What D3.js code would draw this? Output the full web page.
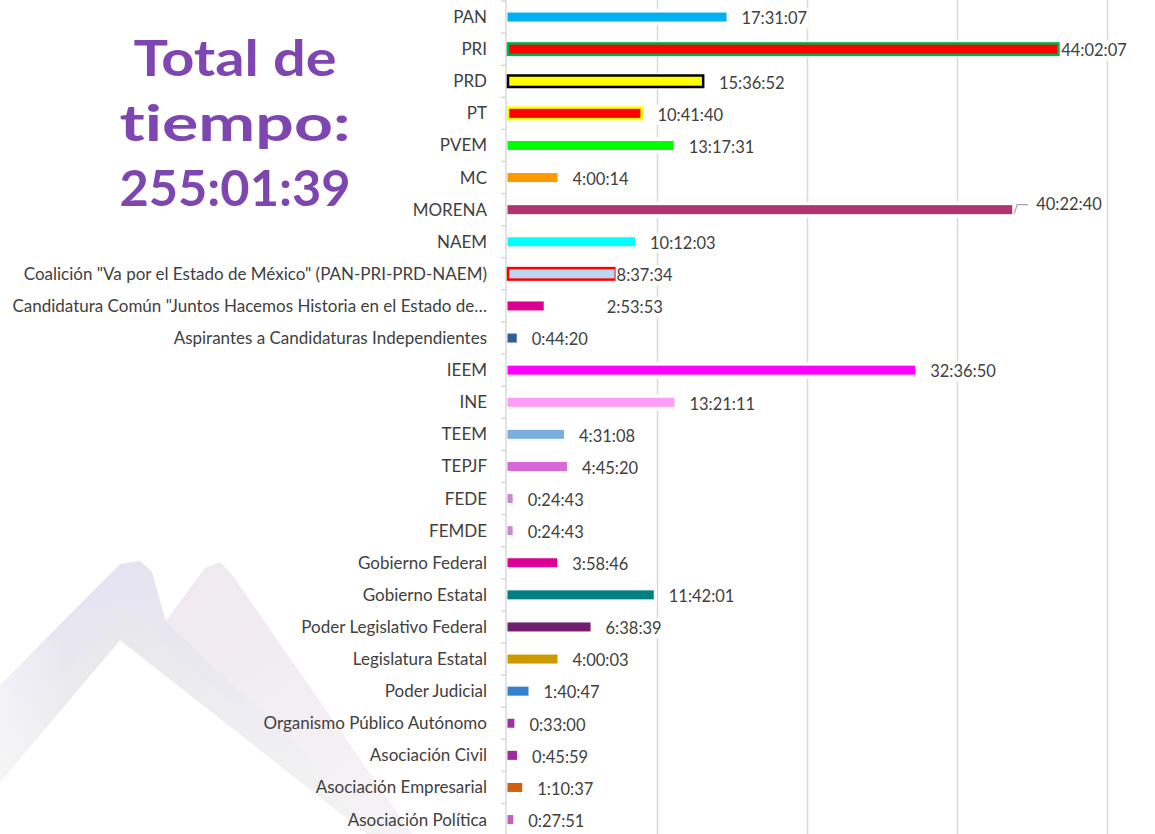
<!DOCTYPE html>
<html><head><meta charset="utf-8">
<script src="https://cdn.jsdelivr.net/npm/d3@7"></script>
<style>
html,body{margin:0;padding:0;background:#fff;}
svg{display:block;}
</style></head>
<body>
<svg id="chart" width="1155" height="834"></svg>
<script>
// ---- data ----
const categories = [
  "PAN","PRI","PRD","PT","PVEM","MC","MORENA","NAEM",
  "Coalición \"Va por el Estado de México\" (PAN-PRI-PRD-NAEM)",
  "Candidatura Común \"Juntos Hacemos Historia en el Estado de…",
  "Aspirantes a Candidaturas Independientes",
  "IEEM","INE","TEEM","TEPJF","FEDE","FEMDE",
  "Gobierno Federal","Gobierno Estatal","Poder Legislativo Federal",
  "Legislatura Estatal","Poder Judicial","Organismo Público Autónomo",
  "Asociación Civil","Asociación Empresarial","Asociación Política"
];
const durations = [
  "17:31:07","44:02:07","15:36:52","10:41:40","13:17:31","4:00:14","40:22:40","10:12:03",
  "8:37:34","2:53:53","0:44:20","32:36:50","13:21:11","4:31:08","4:45:20","0:24:43","0:24:43",
  "3:58:46","11:42:01","6:38:39","4:00:03","1:40:47","0:33:00","0:45:59","1:10:37","0:27:51"
];
const fillColors = [
  "#00B0F0","#FF0000","#FFFF00","#FF0000","#00FF00","#FF9900","#B03472","#00FFFF",
  "#BDD7EE","#D9008D","#2F5F97","#FF00FF","#FF9CF8","#7CAFDD","#D767D6","#CC88CC","#CC88CC",
  "#DD0095","#008080","#70206E","#CC9900","#3380CC","#A0309E","#9E2C9E","#D06010","#C55DC2"
];
const borderColors = {"PRI":"#00B050","PRD":"#000000","PT":"#FFFF00",
  "Coalición \"Va por el Estado de México\" (PAN-PRI-PRD-NAEM)":"#FF0000"};
const xTickHours = [0,12,24,36,48];
const titleLines = ["Total de","tiempo:","255:01:39"];
const titleWidths = [203,231,231];

// label placement tweaks (Excel labels moved by hand)
const labelGap = {"PRI":2,"Coalición \"Va por el Estado de México\" (PAN-PRI-PRD-NAEM)":0,
  "Candidatura Común \"Juntos Hacemos Historia en el Estado de…":63,"MORENA":24};
const defaultGap = 15;

function toHours(s){const p=s.split(":").map(Number);return p[0]+p[1]/60+p[2]/3600;}
const data = categories.map((c,i)=>({cat:c,label:durations[i],h:toHours(durations[i]),fill:fillColors[i],border:borderColors[c]||null}));

const svg = d3.select("#chart");

// ---- background roof shape (faint decoration) ----
const defs = svg.append("defs");
function lg(id,x2,y2,stops){
  const g=defs.append("linearGradient").attr("id",id).attr("x1","0").attr("y1","0").attr("x2",x2).attr("y2",y2);
  stops.forEach(s=>g.append("stop").attr("offset",s[0]).attr("stop-color",s[1]));
}
lg("roofGrad","0.3","1",[["0%","#E4E2F0"],["55%","#EAE9F1"],["100%","#F3F3F5"]]);
lg("sideGrad","0.6","1",[["0%","#EFE8F0"],["100%","#F5F2F5"]]);
lg("foldGrad","0.4","1",[["0%","#E6E6EA"],["100%","#F2F2F3"]]);
lg("fadeLeft","1","0",[["0%","#FFFFFF"],["100%","#FFFFFF"]]);
const bg = svg.append("g");
const closed = d3.line().curve(d3.curveLinearClosed);
bg.append("path").attr("d",closed([[165,622],[205,568],[220,562],[233,576],[412,834],[388,834]])).attr("fill","url(#sideGrad)");
bg.append("path").attr("d",closed([[0,685],[120,564],[140,561],[152,572],[166,622],[390,834],[367,834],[120,640],[0,782]])).attr("fill","url(#roofGrad)");
bg.append("path").attr("d",closed([[0,742],[123,607],[382,834],[367,834],[120,640],[0,782]])).attr("fill","url(#foldGrad)");
// fade towards the left edge
const fg = defs.append("linearGradient").attr("id","edgeFade").attr("x1","0").attr("y1","0").attr("x2","1").attr("y2","0");
fg.append("stop").attr("offset","0%").attr("stop-color","#fff").attr("stop-opacity",0.45);
fg.append("stop").attr("offset","100%").attr("stop-color","#fff").attr("stop-opacity",0);
bg.append("rect").attr("x",0).attr("y",640).attr("width",70).attr("height",194).attr("fill","url(#edgeFade)");

// ---- title ----
svg.append("g").selectAll("text").data(titleLines).join("text")
  .attr("x",235).attr("y",(d,i)=>76+i*65)
  .attr("text-anchor","middle")
  .attr("font-family","Lato, 'DejaVu Sans', sans-serif")
  .attr("font-weight","bold").attr("font-size",50)
  .style("font-variant-ligatures","none")
  .attr("textLength",(d,i)=>titleWidths[i]).attr("lengthAdjust","spacingAndGlyphs")
  .attr("fill","#7E46B1").text(d=>d);

// ---- scales ----
const x = d3.scaleLinear().domain([0,48]).range([507.5,1107.5]);
const y = d3.scaleBand().domain(categories).range([1,1+26*32.1]).padding(0);
const bw = y.bandwidth();
const barH = 9;

// gridlines
svg.append("g").selectAll("line").data(xTickHours.slice(1)).join("line")
  .attr("x1",d=>x(d)).attr("x2",d=>x(d)).attr("y1",0).attr("y2",834)
  .attr("stroke","#D9D9D9").attr("stroke-width",1.5);

// axis line + ticks at band boundaries
const axisX = x(0)-1.5;
svg.append("line").attr("x1",axisX).attr("x2",axisX).attr("y1",0).attr("y2",834)
  .attr("stroke","#D9D9D9").attr("stroke-width",1.5);
svg.append("g").selectAll("line").data(categories).join("line")
  .attr("x1",axisX-5).attr("x2",axisX).attr("y1",d=>y(d)).attr("y2",d=>y(d))
  .attr("stroke","#D9D9D9").attr("stroke-width",1.5);

// category labels via axis
const yAxis = d3.axisLeft(y).tickSize(0).tickPadding(0);
const ag = svg.append("g").attr("transform",`translate(487,0)`).call(yAxis);
ag.select(".domain").remove();
ag.selectAll("text").attr("font-family","Lato, 'Open Sans', sans-serif").attr("font-size",17)
  .attr("fill","#404040").attr("dy","0.35em");

// bars
const bars = svg.append("g");
bars.selectAll("rect.halo").data(data).join("rect").attr("class","halo")
  .attr("x",x(0)).attr("width",d=>Math.max(0,x(d.h)-x(0))+3)
  .attr("y",d=>y(d.cat)+bw/2-8).attr("height",16).attr("fill","#fff");
bars.selectAll("rect.bar").data(data).join("rect").attr("class","bar")
  .attr("x",d=>d.border?x(0)+0.5:x(0))
  .attr("width",d=>Math.max(1.5,x(d.h)-x(0)))
  .attr("y",d=>d.border?y(d.cat)+bw/2-5.75:y(d.cat)+bw/2-barH/2)
  .attr("height",d=>d.border?11.5:barH)
  .attr("fill",d=>d.fill)
  .attr("stroke",d=>d.border||"none").attr("stroke-width",d=>d.border?2.5:0);

// data labels
const lgp = svg.append("g");
data.forEach(d=>{
  const endX = x(d.h) + (d.border?1.25:0);
  const gap = (d.cat in labelGap)?labelGap[d.cat]:defaultGap;
  const lx = endX+gap;
  const cy = y(d.cat)+bw/2 + (d.cat==="MORENA"?-5:1.5);
  const t = lgp.append("text").attr("x",lx).attr("y",cy).attr("dy","0.35em")
    .attr("font-family","Lato, 'Open Sans', sans-serif").attr("font-size",16.5)
    .attr("fill","#404040").text(d.label);
  const bb = t.node().getBBox();
  lgp.insert("rect","text").attr("x",bb.x-1).attr("y",bb.y).attr("width",bb.width+2).attr("height",bb.height).attr("fill","#fff");
  if(d.cat==="MORENA"){
    const by = y(d.cat)+bw/2;
    lgp.append("path").attr("d",`M${endX+2},${by+4}L${endX+5},${cy}L${endX+16},${cy}`)
      .attr("fill","none").attr("stroke","#A6A6A6").attr("stroke-width",1.2);
  }
});
</script>
</body></html>
